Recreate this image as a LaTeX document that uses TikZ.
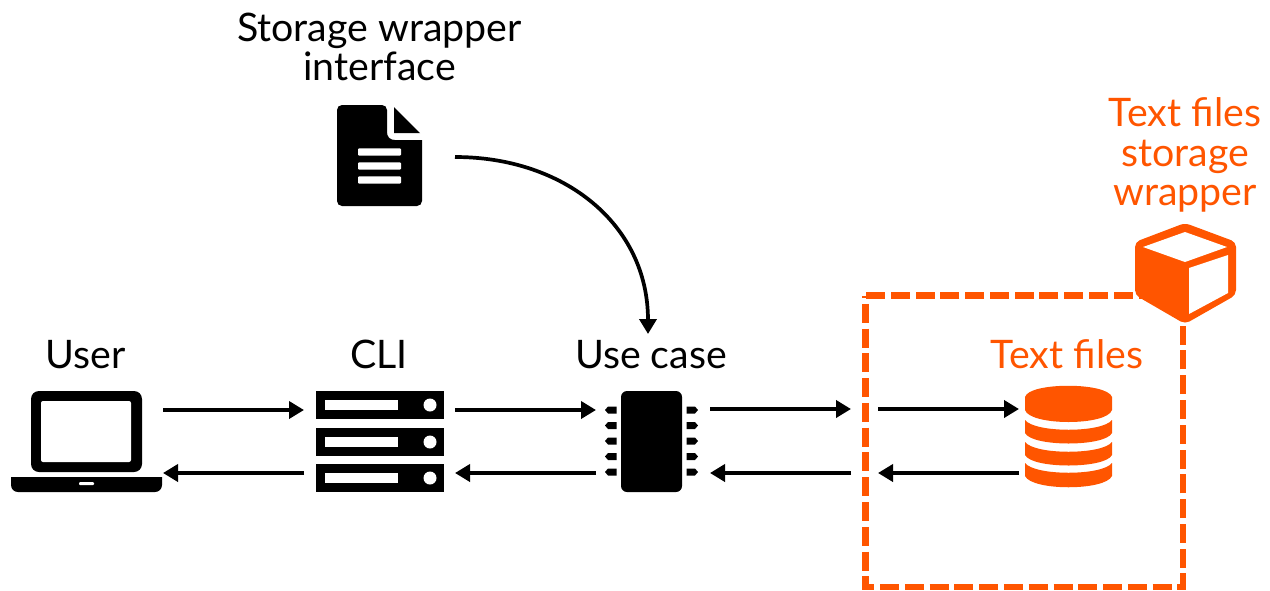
\documentclass[tikz,border=0pt]{standalone}
\usepackage{fontspec}
\setmainfont{Lato}
\usetikzlibrary{arrows.meta}
\definecolor{acc}{HTML}{FF5500}
\tikzset{
  lbl/.style={font=\fontsize{39.3}{39.6}\selectfont,align=center,inner sep=0pt,anchor=center},
  lblo/.style={lbl,text=acc},
  flow/.style={line width=3.7pt,-{Triangle[length=15pt,width=17pt]}},
  boxline/.style={acc,line width=6.5pt,dash pattern=on 19pt off 5.78pt,dash phase=16.7pt},
}
\begin{document}
\begin{tikzpicture}[x=1pt,y=-1pt]
\useasboundingbox (0,0) rectangle (1270,590);
% labels
\node[lbl] (lblstore) at (379.5,47) {Storage wrapper\\interface};
\node[lbl] (lbluser) at (85.5,354.5) {User};
\node[lbl] (lblcli) at (379,354.5) {CLI};
\node[lbl] (lbluse) at (651,354.5) {Use case};
\node[lblo] (lblfiles) at (1067,354.5) {Text files};
\node[lblo] (lblwrap) at (1185,155) {Text files\\storage\\wrapper};
% dashed box
\draw[boxline] (865.7,295.7) -- (865.7,586.8) -- (1183,586.8) -- (1183,295.7) -- cycle;
% laptop
\fill[black,rounded corners=8pt] (31,391) rectangle (142,472);
\fill[white,rounded corners=2pt] (41,401) rectangle (131,462);
\fill[black] (11,477) -- (162,477) -- (162,483) [rounded corners=7pt] -- (162,492) -- (11,492) [sharp corners] -- (11,483) -- cycle;
\fill[white,rounded corners=1pt] (79,482) rectangle (94,485);
% server
\foreach \t in {391,428,464}{
  \fill[black] (316,\t) rectangle (444,\t+27.5);
  \fill[white] (325,\t+9) rectangle (398,\t+18.5);
  \fill[white] (430,\t+14) circle (6.5);
}
% chip
\fill[black,rounded corners=6pt] (621,391) rectangle (682,492);
\foreach \y in {410,425.5,441,456.5,472}{
  \fill[black] (605,\y) -- (608,\y-3.5) -- (616.5,\y-3.5) -- (616.5,\y+3.5) -- (608,\y+3.5) -- cycle;
  \fill[black] (698,\y) -- (695,\y-3.5) -- (686.5,\y-3.5) -- (686.5,\y+3.5) -- (695,\y+3.5) -- cycle;
}
% document
\fill[black,rounded corners=5pt] (337,105) -- (387,105) [sharp corners] -- (387,132) .. controls (387,137) and (390,140) .. (395,140) -- (422,140) [rounded corners=5pt] -- (422,206) -- (337,206) -- cycle;
\fill[black] (394,107) -- (420,133) -- (394,133) -- cycle;
\foreach \y in {152,166,180}{\fill[white,rounded corners=1pt] (358,\y-3.7) rectangle (401,\y+3.7);}
% database
\fill[acc] (1025,397) .. controls (1029,382) and (1107,382) .. (1112,397) -- (1112,410) .. controls (1107,426) and (1030,426) .. (1025,410) -- cycle;
\fill[acc] (1025,420) .. controls (1035,433) and (1102,433) .. (1112,420) -- (1112,433) .. controls (1105,447) and (1032,447) .. (1025,433) -- cycle;
\fill[acc] (1025,442) .. controls (1035,455) and (1102,455) .. (1112,442) -- (1112,455) .. controls (1105,469) and (1032,469) .. (1025,455) -- cycle;
\fill[acc] (1025,463) .. controls (1035,476) and (1102,476) .. (1112,463) -- (1112,476) .. controls (1105,491) and (1032,491) .. (1025,476) -- cycle;
% cube
\fill[acc,rounded corners=5pt] (1185,223) -- (1236,242) -- (1236,295) -- (1185,324) -- (1135,295) -- (1135,242) -- cycle;
\fill[white] (1143,247) -- (1185,232) -- (1227,247) -- (1185,262) -- cycle;
\fill[white] (1189,268) -- (1228,255) -- (1228,293) -- (1189,314) -- cycle;
% connector anchors
\coordinate (lapA) at (163,410);
\coordinate (lapB) at (163,473);
\coordinate (srvAin) at (304,410);
\coordinate (srvBin) at (304,473);
\coordinate (srvAout) at (455,410);
\coordinate (srvBout) at (455,473);
\coordinate (chipAin) at (596,410);
\coordinate (chipBin) at (596,473);
\coordinate (chipAout) at (710,409);
\coordinate (chipBout) at (710,473);
\coordinate (boxAin) at (851,409);
\coordinate (boxBin) at (851,473);
\coordinate (boxAout) at (878,409);
\coordinate (boxBout) at (878,473);
\coordinate (dbA) at (1019,409);
\coordinate (dbB) at (1019,473);
\coordinate (docOut) at (455,157);
\coordinate (chipTop) at (648,334);
% connectors
\draw[flow] (lapA) -- (srvAin);
\draw[flow] (srvBin) -- (lapB);
\draw[flow] (srvAout) -- (chipAin);
\draw[flow] (chipBin) -- (srvBout);
\draw[flow] (chipAout) -- (boxAin);
\draw[flow] (boxBin) -- (chipBout);
\draw[flow] (boxAout) -- (dbA);
\draw[flow] (dbB) -- (boxBout);
\draw[flow] (docOut) .. controls (565,157) and (648,225) .. (chipTop);
\end{tikzpicture}
\end{document}
